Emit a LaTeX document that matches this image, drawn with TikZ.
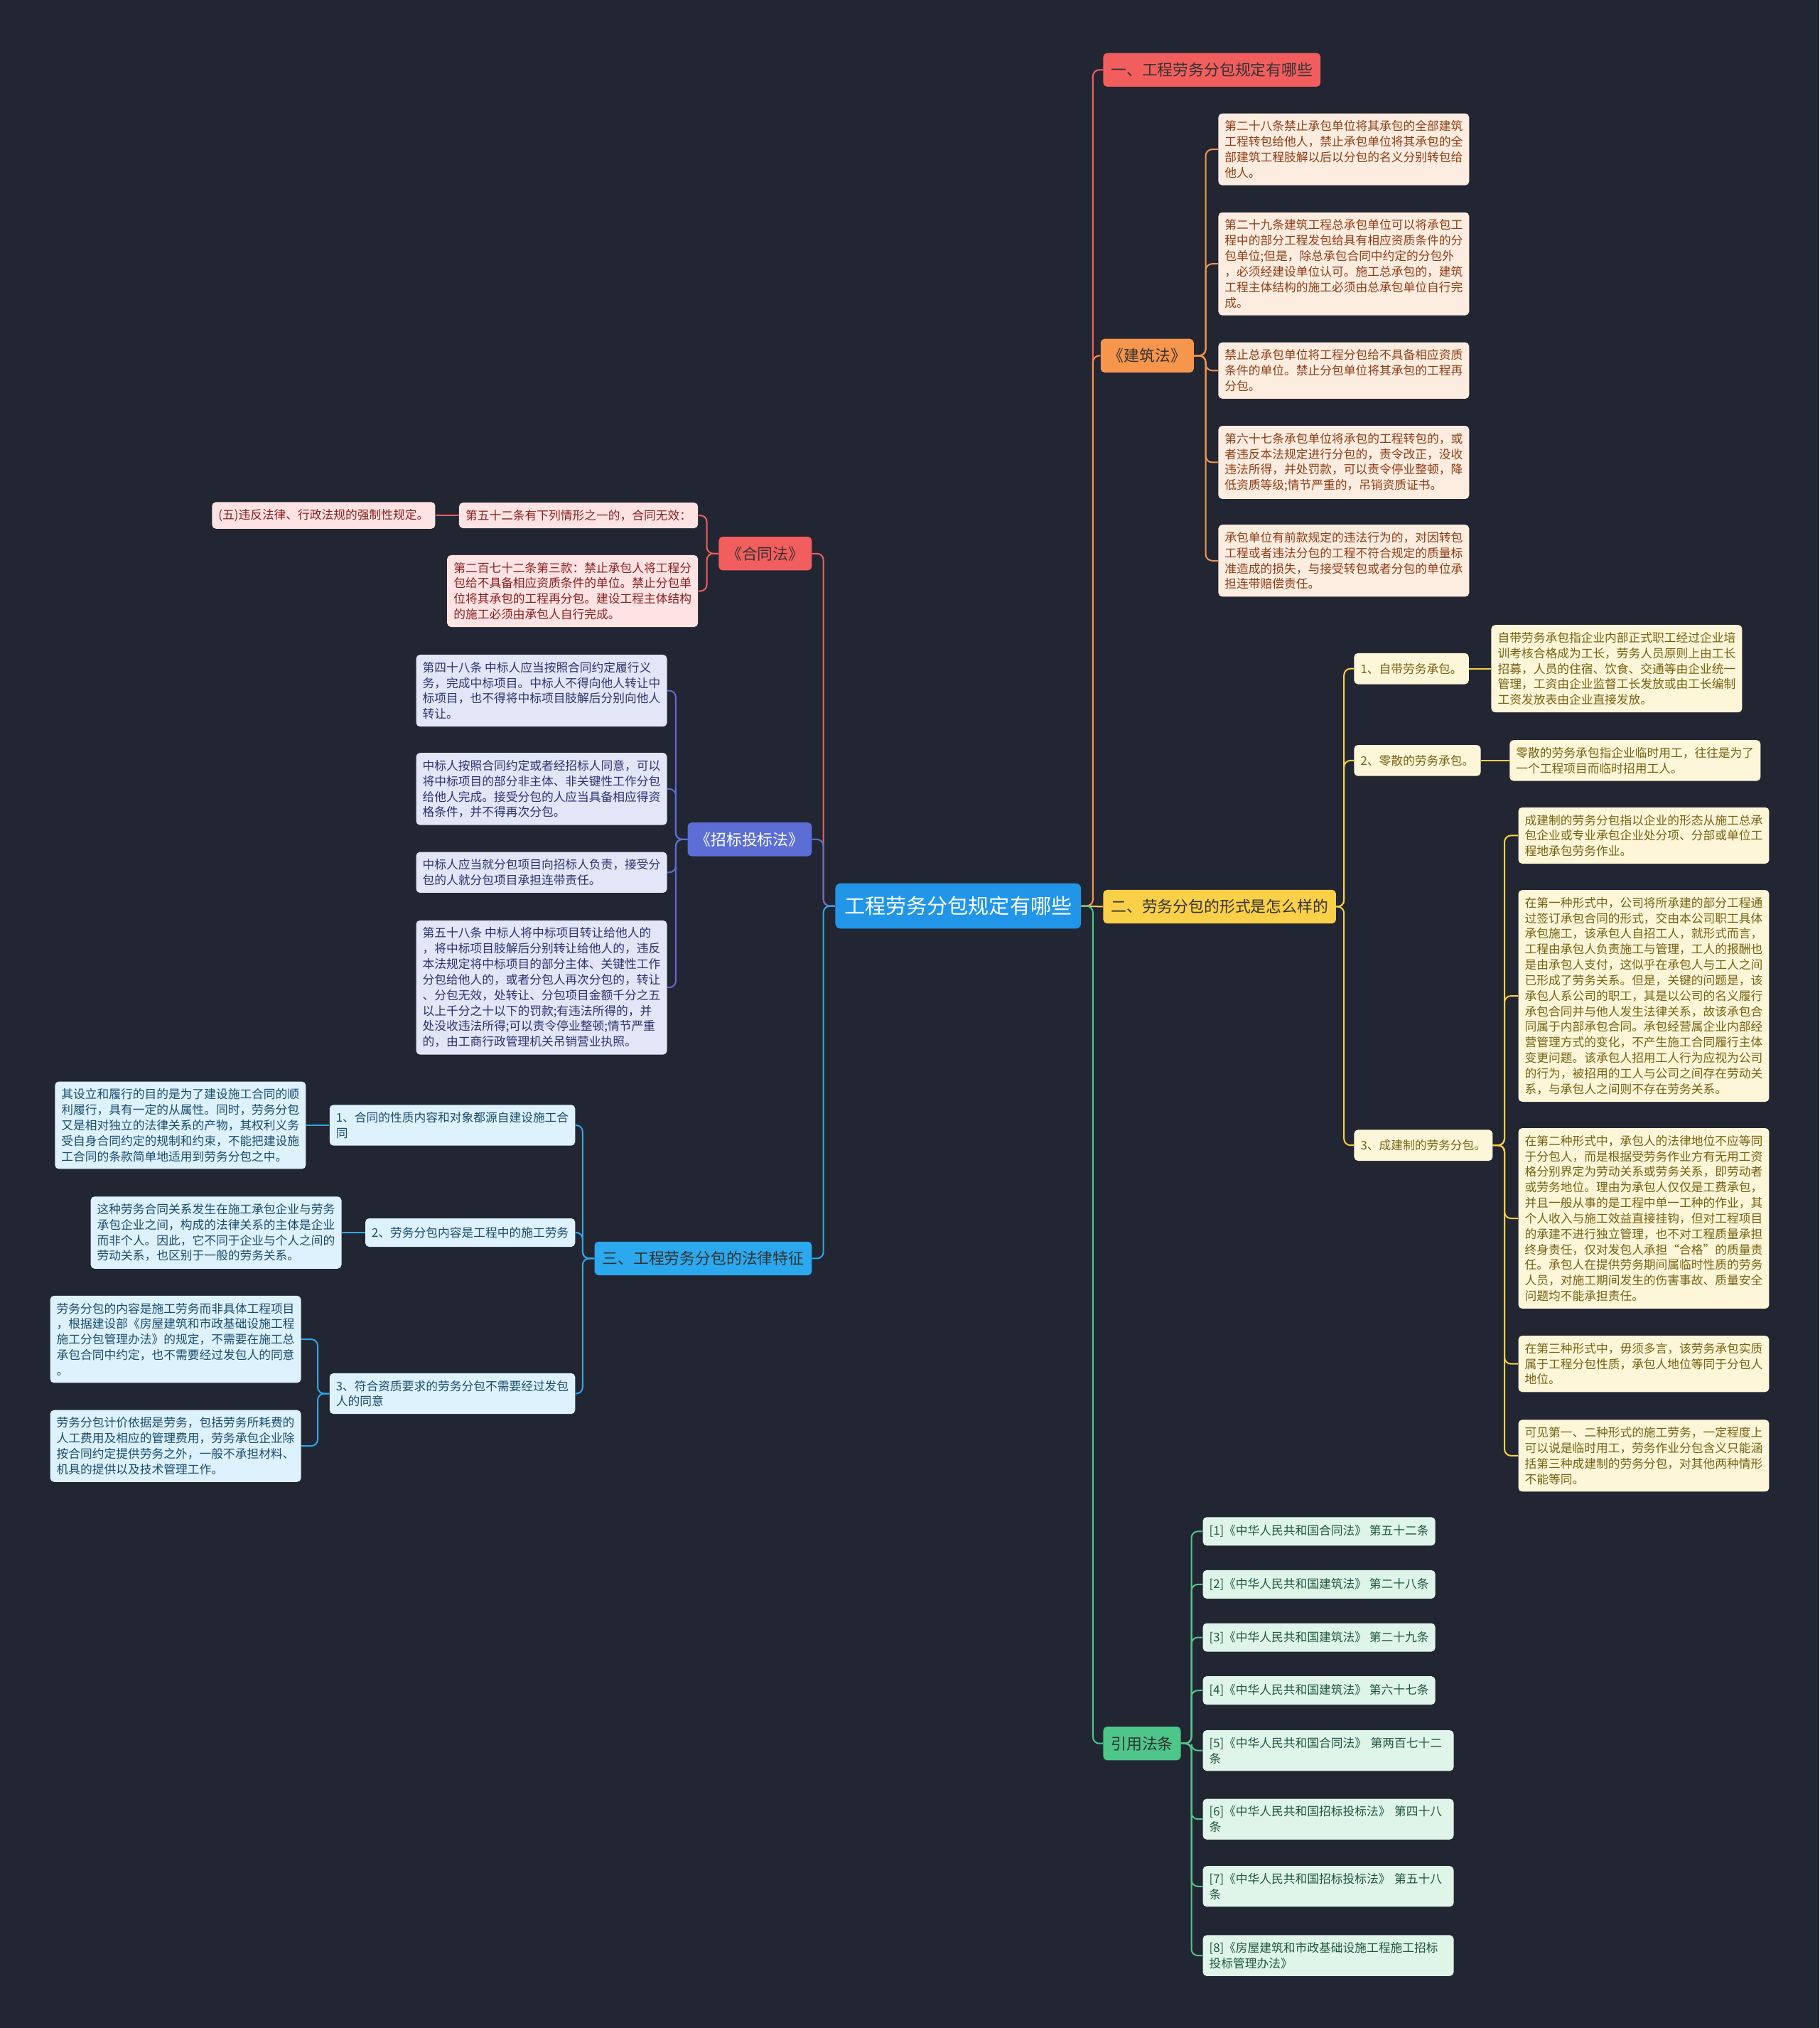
\documentclass[tikz,border=0pt]{standalone}
\usepackage{fontspec}
\setmainfont{Noto Sans CJK SC}
\usepackage{xcolor}
\usetikzlibrary{positioning}
\definecolor{bgdark}{RGB}{34,38,51}
\definecolor{rootblue}{RGB}{33,150,232}
\definecolor{lawred}{RGB}{242,94,94}
\definecolor{laworange}{RGB}{246,150,76}
\definecolor{formyellow}{RGB}{250,208,72}
\definecolor{citegreen}{RGB}{78,198,138}
\definecolor{bidindigo}{RGB}{92,110,214}
\definecolor{featblue}{RGB}{44,168,238}
\definecolor{jzfill}{RGB}{253,236,224}
\definecolor{jztext}{RGB}{140,62,22}
\definecolor{htfill}{RGB}{253,227,227}
\definecolor{httext}{RGB}{138,32,32}
\definecolor{zbfill}{RGB}{227,230,247}
\definecolor{zbtext}{RGB}{42,52,112}
\definecolor{ftfill}{RGB}{221,242,252}
\definecolor{fttext}{RGB}{26,76,110}
\definecolor{fmfill}{RGB}{253,246,216}
\definecolor{fmtext}{RGB}{118,98,18}
\definecolor{ctfill}{RGB}{223,245,234}
\definecolor{cttext}{RGB}{30,88,58}
\tikzset{
  rootbox/.style={
    fill=rootblue,
    text=white,
    rounded corners=4pt,
    font=\fontsize{16}{19}\selectfont,
    inner xsep=7pt,
    minimum height=35pt
  },
  topicbox/.style={
    rounded corners=3pt,
    text=black!80,
    font=\fontsize{12}{14}\selectfont,
    inner xsep=6pt,
    minimum height=26pt
  },
  leafbox/.style={
    rounded corners=3pt,
    align=left,
    font=\fontsize{9.2}{12}\selectfont,
    inner xsep=5pt,
    inner ysep=5.5pt
  },
  jzleaf/.style={leafbox,fill=jzfill,text=jztext},
  htleaf/.style={leafbox,fill=htfill,text=httext},
  zbleaf/.style={leafbox,fill=zbfill,text=zbtext},
  ftleaf/.style={leafbox,fill=ftfill,text=fttext},
  fmleaf/.style={leafbox,fill=fmfill,text=fmtext},
  ctleaf/.style={leafbox,fill=ctfill,text=cttext},
  link/.style={line width=1.1pt,rounded corners=5pt}
}
\begin{document}
\begin{tikzpicture}[x=1pt,y=-1pt]
\fill[bgdark] (0,0) rectangle (1407,1568);
\useasboundingbox (0,0) rectangle (1407,1568);
\node[rootbox] (root) at (741,700.5) {工程劳务分包规定有哪些};
\node[topicbox,fill=lawred,anchor=west] (rule) at (853,54) {一、工程劳务分包规定有哪些};
\node[topicbox,fill=laworange,anchor=west] (jzlaw) at (851,275) {《建筑法》};
\node[topicbox,fill=formyellow,anchor=west] (form) at (853,701) {二、劳务分包的形式是怎么样的};
\node[topicbox,fill=citegreen,anchor=west] (cite) at (853,1348) {引用法条};
\node[topicbox,fill=lawred,anchor=east] (htlaw) at (628,428) {《合同法》};
\node[topicbox,fill=bidindigo,text=white,anchor=east] (zblaw) at (628,649) {《招标投标法》};
\node[topicbox,fill=featblue,anchor=east] (feat) at (628,973) {三、工程劳务分包的法律特征};
\node[jzleaf,anchor=west] (jz1) at (942,115.5) {第二十八条禁止承包单位将其承包的全部建筑\\工程转包给他人，禁止承包单位将其承包的全\\部建筑工程肢解以后以分包的名义分别转包给\\他人。};
\node[jzleaf,anchor=west] (jz2) at (942,204) {第二十九条建筑工程总承包单位可以将承包工\\程中的部分工程发包给具有相应资质条件的分\\包单位;但是，除总承包合同中约定的分包外\\，必须经建设单位认可。施工总承包的，建筑\\工程主体结构的施工必须由总承包单位自行完\\成。};
\node[jzleaf,anchor=west] (jz3) at (942,286.5) {禁止总承包单位将工程分包给不具备相应资质\\条件的单位。禁止分包单位将其承包的工程再\\分包。};
\node[jzleaf,anchor=west] (jz4) at (942,357.5) {第六十七条承包单位将承包的工程转包的，或\\者违反本法规定进行分包的，责令改正，没收\\违法所得，并处罚款，可以责令停业整顿，降\\低资质等级;情节严重的，吊销资质证书。};
\node[jzleaf,anchor=west] (jz5) at (942,433.5) {承包单位有前款规定的违法行为的，对因转包\\工程或者违法分包的工程不符合规定的质量标\\准造成的损失，与接受转包或者分包的单位承\\担连带赔偿责任。};
\node[htleaf,anchor=east] (ht1) at (540,398.5) {第五十二条有下列情形之一的，合同无效：};
\node[htleaf,left=18pt of ht1] (ht1a) {(五)违反法律、行政法规的强制性规定。};
\node[htleaf,anchor=east] (ht2) at (540,457) {第二百七十二条第三款：禁止承包人将工程分\\包给不具备相应资质条件的单位。禁止分包单\\位将其承包的工程再分包。建设工程主体结构\\的施工必须由承包人自行完成。};
\node[zbleaf,anchor=east] (zb1) at (516,534) {第四十八条 中标人应当按照合同约定履行义\\务，完成中标项目。中标人不得向他人转让中\\标项目，也不得将中标项目肢解后分别向他人\\转让。};
\node[zbleaf,anchor=east] (zb2) at (516,610) {中标人按照合同约定或者经招标人同意，可以\\将中标项目的部分非主体、非关键性工作分包\\给他人完成。接受分包的人应当具备相应得资\\格条件，并不得再次分包。};
\node[zbleaf,anchor=east] (zb3) at (516,674.5) {中标人应当就分包项目向招标人负责，接受分\\包的人就分包项目承担连带责任。};
\node[zbleaf,anchor=east] (zb4) at (516,763.5) {第五十八条 中标人将中标项目转让给他人的\\，将中标项目肢解后分别转让给他人的，违反\\本法规定将中标项目的部分主体、关键性工作\\分包给他人的，或者分包人再次分包的，转让\\、分包无效，处转让、分包项目金额千分之五\\以上千分之十以下的罚款;有违法所得的，并\\处没收违法所得;可以责令停业整顿;情节严重\\的，由工商行政管理机关吊销营业执照。};
\node[ftleaf,anchor=east] (ft1) at (445,870) {1、合同的性质内容和对象都源自建设施工合\\同};
\node[ftleaf,left=18pt of ft1] (ft1a) {其设立和履行的目的是为了建设施工合同的顺\\利履行，具有一定的从属性。同时，劳务分包\\又是相对独立的法律关系的产物，其权利义务\\受自身合同约定的规制和约束，不能把建设施\\工合同的条款简单地适用到劳务分包之中。};
\node[ftleaf,anchor=east,minimum height=22pt] (ft2) at (445,953) {2、劳务分包内容是工程中的施工劳务};
\node[ftleaf,left=18pt of ft2] (ft2a) {这种劳务合同关系发生在施工承包企业与劳务\\承包企业之间，构成的法律关系的主体是企业\\而非个人。因此，它不同于企业与个人之间的\\劳动关系，也区别于一般的劳务关系。};
\node[ftleaf,anchor=east] (ft3) at (445,1077.5) {3、符合资质要求的劳务分包不需要经过发包\\人的同意};
\node[ftleaf,anchor=east] (ft3a) at (233,1035.5) {劳务分包的内容是施工劳务而非具体工程项目\\，根据建设部《房屋建筑和市政基础设施工程\\施工分包管理办法》的规定，不需要在施工总\\承包合同中约定，也不需要经过发包人的同意\\。};
\node[ftleaf,anchor=east] (ft3b) at (233,1118) {劳务分包计价依据是劳务，包括劳务所耗费的\\人工费用及相应的管理费用，劳务承包企业除\\按合同约定提供劳务之外，一般不承担材料、\\机具的提供以及技术管理工作。};
\node[fmleaf,anchor=west,minimum height=24pt] (fm1) at (1047,517) {1、自带劳务承包。};
\node[fmleaf,right=17pt of fm1] (fm1a) {自带劳务承包指企业内部正式职工经过企业培\\训考核合格成为工长，劳务人员原则上由工长\\招募，人员的住宿、饮食、交通等由企业统一\\管理，工资由企业监督工长发放或由工长编制\\工资发放表由企业直接发放。};
\node[fmleaf,anchor=west,minimum height=24pt] (fm2) at (1047,588) {2、零散的劳务承包。};
\node[fmleaf,right=22pt of fm2] (fm2a) {零散的劳务承包指企业临时用工，往往是为了\\一个工程项目而临时招用工人。};
\node[fmleaf,anchor=west,minimum height=24pt] (fm3) at (1047,885.5) {3、成建制的劳务分包。};
\node[fmleaf,anchor=west] (fm3a) at (1174,646) {成建制的劳务分包指以企业的形态从施工总承\\包企业或专业承包企业处分项、分部或单位工\\程地承包劳务作业。};
\node[fmleaf,anchor=west] (fm3b) at (1174,770) {在第一种形式中，公司将所承建的部分工程通\\过签订承包合同的形式，交由本公司职工具体\\承包施工，该承包人自招工人，就形式而言，\\工程由承包人负责施工与管理，工人的报酬也\\是由承包人支付，这似乎在承包人与工人之间\\已形成了劳务关系。但是，关键的问题是，该\\承包人系公司的职工，其是以公司的名义履行\\承包合同并与他人发生法律关系，故该承包合\\同属于内部承包合同。承包经营属企业内部经\\营管理方式的变化，不产生施工合同履行主体\\变更问题。该承包人招用工人行为应视为公司\\的行为，被招用的工人与公司之间存在劳动关\\系，与承包人之间则不存在劳务关系。};
\node[fmleaf,anchor=west] (fm3c) at (1174,942) {在第二种形式中，承包人的法律地位不应等同\\于分包人，而是根据受劳务作业方有无用工资\\格分别界定为劳动关系或劳务关系，即劳动者\\或劳务地位。理由为承包人仅仅是工费承包，\\并且一般从事的是工程中单一工种的作业，其\\个人收入与施工效益直接挂钩，但对工程项目\\的承建不进行独立管理，也不对工程质量承担\\终身责任，仅对发包人承担“合格”的质量责\\任。承包人在提供劳务期间属临时性质的劳务\\人员，对施工期间发生的伤害事故、质量安全\\问题均不能承担责任。};
\node[fmleaf,anchor=west] (fm3d) at (1174,1054.5) {在第三种形式中，毋须多言，该劳务承包实质\\属于工程分包性质，承包人地位等同于分包人\\地位。};
\node[fmleaf,anchor=west] (fm3e) at (1174,1125.5) {可见第一、二种形式的施工劳务，一定程度上\\可以说是临时用工，劳务作业分包含义只能涵\\括第三种成建制的劳务分包，对其他两种情形\\不能等同。};
\node[ctleaf,anchor=west,minimum height=22pt] (ct1) at (930,1184) {[1]《中华人民共和国合同法》 第五十二条};
\node[ctleaf,anchor=west,minimum height=22pt] (ct2) at (930,1225) {[2]《中华人民共和国建筑法》 第二十八条};
\node[ctleaf,anchor=west,minimum height=22pt] (ct3) at (930,1266) {[3]《中华人民共和国建筑法》 第二十九条};
\node[ctleaf,anchor=west,minimum height=22pt] (ct4) at (930,1307) {[4]《中华人民共和国建筑法》 第六十七条};
\node[ctleaf,anchor=west,text width=184pt] (ct5) at (930,1353.5) {[5]《中华人民共和国合同法》 第两百七十二\\条};
\node[ctleaf,anchor=west,text width=184pt] (ct6) at (930,1406.5) {[6]《中华人民共和国招标投标法》 第四十八\\条};
\node[ctleaf,anchor=west,text width=184pt] (ct7) at (930,1458.5) {[7]《中华人民共和国招标投标法》 第五十八\\条};
\node[ctleaf,anchor=west,text width=184pt] (ct8) at (930,1512) {[8]《房屋建筑和市政基础设施工程施工招标\\投标管理办法》};
\draw[link,lawred] (root.east) -- ++(9,0) |- (rule.west);
\draw[link,laworange] (root.east) -- ++(9,0) |- (jzlaw.west);
\draw[link,formyellow] (root.east) -- (form.west);
\draw[link,citegreen] (root.east) -- ++(9,0) |- (cite.west);
\draw[link,lawred] (root.west) -- ++(-9,0) |- (htlaw.east);
\draw[link,bidindigo] (root.west) -- ++(-9,0) |- (zblaw.east);
\draw[link,featblue] (root.west) -- ++(-9,0) |- (feat.east);
\draw[link,laworange] (jzlaw.east) -- ++(9,0) |- (jz1.west);
\draw[link,laworange] (jzlaw.east) -- ++(9,0) |- (jz2.west);
\draw[link,laworange] (jzlaw.east) -- ++(9,0) |- (jz3.west);
\draw[link,laworange] (jzlaw.east) -- ++(9,0) |- (jz4.west);
\draw[link,laworange] (jzlaw.east) -- ++(9,0) |- (jz5.west);
\draw[link,lawred] (htlaw.west) -- ++(-9,0) |- (ht1.east);
\draw[link,lawred] (htlaw.west) -- ++(-9,0) |- (ht2.east);
\draw[link,lawred] (ht1.west) -- (ht1a.east);
\draw[link,bidindigo] (zblaw.west) -- ++(-9,0) |- (zb1.east);
\draw[link,bidindigo] (zblaw.west) -- ++(-9,0) |- (zb2.east);
\draw[link,bidindigo] (zblaw.west) -- ++(-9,0) |- (zb3.east);
\draw[link,bidindigo] (zblaw.west) -- ++(-9,0) |- (zb4.east);
\draw[link,featblue] (feat.west) -- ++(-9,0) |- (ft1.east);
\draw[link,featblue] (feat.west) -- ++(-9,0) |- (ft2.east);
\draw[link,featblue] (feat.west) -- ++(-9,0) |- (ft3.east);
\draw[link,featblue] (ft1.west) -- (ft1a.east);
\draw[link,featblue] (ft2.west) -- (ft2a.east);
\draw[link,featblue] (ft3.west) -- ++(-9,0) |- (ft3a.east);
\draw[link,featblue] (ft3.west) -- ++(-9,0) |- (ft3b.east);
\draw[link,formyellow] (form.east) -- ++(6,0) |- (fm1.west);
\draw[link,formyellow] (form.east) -- ++(6,0) |- (fm2.west);
\draw[link,formyellow] (form.east) -- ++(6,0) |- (fm3.west);
\draw[link,formyellow] (fm1.east) -- (fm1a.west);
\draw[link,formyellow] (fm2.east) -- (fm2a.west);
\draw[link,formyellow] (fm3.east) -- ++(9,0) |- (fm3a.west);
\draw[link,formyellow] (fm3.east) -- ++(9,0) |- (fm3b.west);
\draw[link,formyellow] (fm3.east) -- ++(9,0) |- (fm3c.west);
\draw[link,formyellow] (fm3.east) -- ++(9,0) |- (fm3d.west);
\draw[link,formyellow] (fm3.east) -- ++(9,0) |- (fm3e.west);
\draw[link,citegreen] (cite.east) -- ++(8,0) |- (ct1.west);
\draw[link,citegreen] (cite.east) -- ++(8,0) |- (ct2.west);
\draw[link,citegreen] (cite.east) -- ++(8,0) |- (ct3.west);
\draw[link,citegreen] (cite.east) -- ++(8,0) |- (ct4.west);
\draw[link,citegreen] (cite.east) -- ++(8,0) |- (ct5.west);
\draw[link,citegreen] (cite.east) -- ++(8,0) |- (ct6.west);
\draw[link,citegreen] (cite.east) -- ++(8,0) |- (ct7.west);
\draw[link,citegreen] (cite.east) -- ++(8,0) |- (ct8.west);
\end{tikzpicture}
\end{document}
